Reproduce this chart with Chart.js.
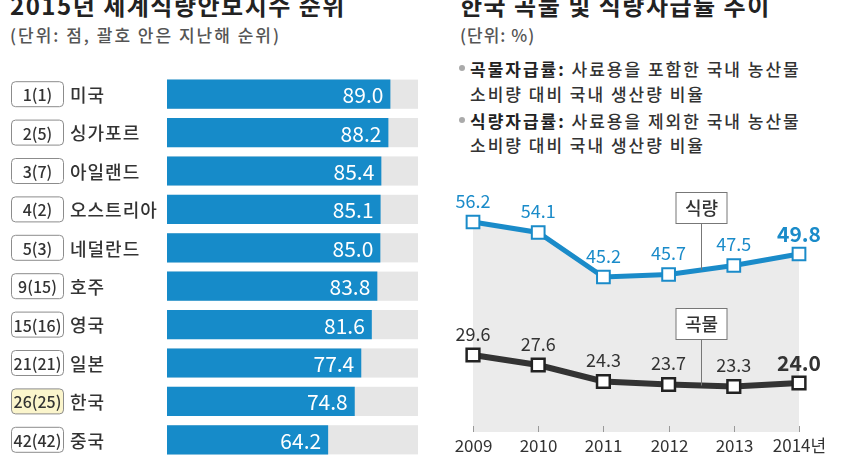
<!DOCTYPE html>
<html>
<head>
<meta charset="utf-8">
<script src="https://cdn.jsdelivr.net/npm/chart.js@4.4.1/dist/chart.umd.min.js"></script>
<style>
  body { margin: 0; width: 842px; height: 467px; overflow: hidden; background: #fff; position: relative;
         font-family: 'Noto Sans CJK KR', sans-serif; color: #333; }
  .txt { position: absolute; white-space: nowrap; line-height: 1; }
  .title { font-size: 24px; font-weight: bold; color: #222; letter-spacing: 1.5px; }
  .sub { font-size: 17px; font-weight: 500; color: #555; }
  .note { font-size: 17px; font-weight: 500; color: #333; letter-spacing: 2px; }
  .note b { color: #222; }
  .dot { position: absolute; left: -11px; top: 5px; width: 6px; height: 6px; border-radius: 3px; background: #aaa; }
  canvas { position: absolute; top: 0; }
</style>
</head>
<body>
<div class="txt title" style="left:10px;top:-7px">2015년 세계식량안보지수 순위</div>
<div class="txt sub" style="left:10px;top:26px;letter-spacing:2px">(단위: 점, 괄호 안은 지난해 순위)</div>

<div class="txt title" style="left:460px;top:-7px">한국 곡물 및 식량자급률 추이</div>
<div class="txt sub" style="left:460px;top:26px;letter-spacing:1px">(단위: %)</div>
<div class="txt note" style="left:470px;top:60px"><span class="dot"></span><b>곡물자급률:</b> 사료용을 포함한 국내 농산물</div>
<div class="txt note" style="left:470px;top:85px">소비량 대비 국내 생산량 비율</div>
<div class="txt note" style="left:470px;top:112px"><span class="dot"></span><b>식량자급률:</b> 사료용을 제외한 국내 농산물</div>
<div class="txt note" style="left:470px;top:136px">소비량 대비 국내 생산량 비율</div>

<canvas id="rank" width="430" height="467" style="left:0"></canvas>
<canvas id="trend" width="412" height="467" style="left:430px"></canvas>

<script>
// food security index 2015
const countries = ['미국', '싱가포르', '아일랜드', '오스트리아', '네덜란드', '호주', '영국', '일본', '한국', '중국'];
const ranks = ['1(1)', '2(5)', '3(7)', '4(2)', '5(3)', '9(15)', '15(16)', '21(21)', '26(25)', '42(42)'];
const scores = [89.0, 88.2, 85.4, 85.1, 85.0, 83.8, 81.6, 77.4, 74.8, 64.2];
const scoreMax = 100;
const highlight = '한국';

// self-sufficiency rates
const years = ['2009', '2010', '2011', '2012', '2013', '2014년'];
const foodRate = [56.2, 54.1, 45.2, 45.7, 47.5, 49.8];
const grainRate = [29.6, 27.6, 24.3, 23.7, 23.3, 24.0];

const KR = "'Noto Sans CJK KR', sans-serif";
const BLUE = '#168bc9';
const DARK = '#333';

const rankPlugin = {
  id: 'rankPlugin',
  beforeDatasetsDraw(chart) {
    const ctx = chart.ctx, x = chart.scales.x;
    const end = x.getPixelForValue(scoreMax);
    ctx.save();
    ctx.fillStyle = '#e6e6e6';
    chart.getDatasetMeta(0).data.forEach(bar => {
      ctx.fillRect(bar.base, bar.y - bar.height / 2, end - bar.base, bar.height);
    });
    ctx.restore();
  },
  afterDatasetsDraw(chart) {
    const ctx = chart.ctx;
    ctx.save();
    ctx.textBaseline = 'middle';
    chart.getDatasetMeta(0).data.forEach((bar, i) => {
      // value inside the bar end
      ctx.fillStyle = '#fff';
      ctx.font = '21px ' + KR;
      ctx.textAlign = 'right';
      ctx.fillText(scores[i].toFixed(1), bar.x - 7, bar.y + 1);

      // rank box
      ctx.beginPath();
      ctx.roundRect(11.5, bar.y - 12.5, 52, 25, 4);
      ctx.fillStyle = countries[i] === highlight ? '#fbf5cc' : '#fff';
      ctx.fill();
      ctx.strokeStyle = '#8c8c8c';
      ctx.lineWidth = 1;
      ctx.stroke();
      ctx.fillStyle = DARK;
      ctx.font = '500 16px ' + KR;
      ctx.textAlign = 'center';
      ctx.fillText(ranks[i], 37.5, bar.y + 1);

      // country name
      ctx.font = '500 18px ' + KR;
      ctx.textAlign = 'left';
      ctx.letterSpacing = '1px';
      ctx.fillText(countries[i], 70, bar.y + 1);
      ctx.letterSpacing = '0px';
    });
    ctx.restore();
  }
};

new Chart(document.getElementById('rank'), {
  type: 'bar',
  data: {
    labels: countries,
    datasets: [{ data: scores, backgroundColor: BLUE, barPercentage: 0.76, categoryPercentage: 1 }]
  },
  options: {
    indexAxis: 'y',
    responsive: false,
    animation: false,
    layout: { padding: { left: 167, right: 12, top: 75, bottom: 8 } },
    scales: {
      x: { display: false, min: 0, max: scoreMax },
      y: { display: false }
    },
    plugins: { legend: { display: false }, tooltip: { enabled: false } }
  },
  plugins: [rankPlugin]
});

const trendPlugin = {
  id: 'trendPlugin',
  afterDatasetsDraw(chart) {
    const ctx = chart.ctx, x = chart.scales.x, area = chart.chartArea;
    ctx.save();

    // year ticks and labels
    ctx.strokeStyle = '#999';
    ctx.lineWidth = 1;
    ctx.fillStyle = DARK;
    ctx.font = '17px ' + KR;
    ctx.textAlign = 'center';
    ctx.textBaseline = 'middle';
    years.forEach((y, i) => {
      const px = Math.round(x.getPixelForValue(i)) + 0.5;
      ctx.beginPath();
      ctx.moveTo(px, area.bottom - 6);
      ctx.lineTo(px, area.bottom);
      ctx.stroke();
      ctx.fillText(y, px, area.bottom + 14);
    });

    // value labels
    const series = [[foodRate, '#1a8bc9'], [grainRate, DARK]];
    series.forEach(([vals, color], d) => {
      const pts = chart.getDatasetMeta(d).data;
      ctx.fillStyle = color;
      pts.forEach((p, i) => {
        const last = i === vals.length - 1;
        ctx.font = (last ? '600 21px ' : '18px ') + KR;
        ctx.fillText(vals[i].toFixed(1), p.x, p.y - (last ? 20 : 21));
      });
    });

    // series tags
    [['식량', 0], ['곡물', 1]].forEach(([name, d]) => {
      const pts = chart.getDatasetMeta(d).data;
      const px = Math.round(x.getPixelForValue(3.5)) + 0.5;
      const lineY = (pts[3].y + pts[4].y) / 2;
      const bottom = Math.round(lineY - 47) + 0.5;
      ctx.strokeStyle = '#777';
      ctx.beginPath();
      ctx.moveTo(px, bottom);
      ctx.lineTo(px, lineY);
      ctx.stroke();
      ctx.fillStyle = '#fff';
      ctx.fillRect(px - 25.5, bottom - 31, 51, 31);
      ctx.strokeRect(px - 25.5, bottom - 31, 51, 31);
      ctx.fillStyle = DARK;
      ctx.font = '500 18px ' + KR;
      ctx.fillText(name, px, bottom - 15);
    });
    ctx.restore();
  }
};

new Chart(document.getElementById('trend'), {
  type: 'line',
  data: {
    labels: years,
    datasets: [
      {
        data: foodRate, borderColor: '#1a8bc9', borderWidth: 5,
        fill: 'start', backgroundColor: '#ebebeb',
        pointStyle: 'rect', pointRadius: 9, pointBorderWidth: 2,
        pointBackgroundColor: '#fff', pointBorderColor: '#1a8bc9'
      },
      {
        data: grainRate, borderColor: DARK, borderWidth: 6, fill: false,
        pointStyle: 'rect', pointRadius: 9, pointBorderWidth: 2.5,
        pointBackgroundColor: '#fff', pointBorderColor: '#222'
      }
    ]
  },
  options: {
    responsive: false,
    animation: false,
    layout: { padding: { left: 43, right: 43, top: 170, bottom: 35 } },
    scales: {
      x: { display: false, offset: false },
      y: { display: false, min: 14.2, max: 66.6 }
    },
    plugins: {
      legend: { display: false },
      tooltip: { enabled: false },
      filler: { drawTime: 'beforeDatasetsDraw' }
    }
  },
  plugins: [trendPlugin]
});
</script>
</body>
</html>
